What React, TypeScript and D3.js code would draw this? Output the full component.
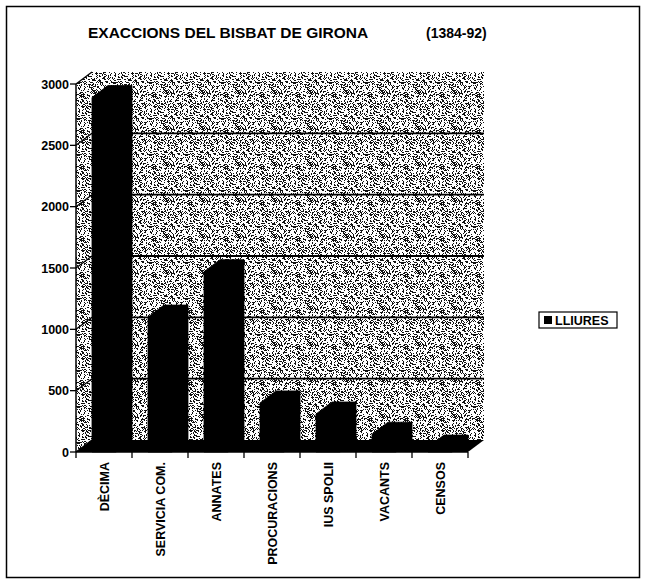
import { useEffect, useRef } from 'react'
import * as d3 from 'd3'

const categories = ['DÈCIMA', 'SERVICIA COM.', 'ANNATES', 'PROCURACIONS', 'IUS SPOLII', 'VACANTS', 'CENSOS']
const lliures = [2890, 1100, 1470, 400, 310, 145, 40]
const yTicks = [0, 500, 1000, 1500, 2000, 2500, 3000]
const seriesName = 'LLIURES'
const titleText = 'EXACCIONS DEL BISBAT DE GIRONA'
const yearsText = '(1384-92)'

export default function App() {
  const svgRef = useRef<SVGSVGElement | null>(null)

  useEffect(() => {
    if (!svgRef.current) return
    const width = 645
    const height = 583
    const font = '"Liberation Sans", Arial, sans-serif'

    // front plane of the 3D box, and depth offset to the back wall
    const left = 76
    const right = 468
    const dx = 16
    const dy = -12

    d3.select(svgRef.current).selectAll('*').remove()
    const svg = d3.select(svgRef.current).attr('width', width).attr('height', height)

    svg.append('rect').attr('width', width).attr('height', height).attr('fill', 'white')

    // stipple texture like the scanned grey fill (fixed hash, just for texture)
    const defs = svg.append('defs')
    const tile = 36
    const pat = defs
      .append('pattern')
      .attr('id', 'stip')
      .attr('width', tile)
      .attr('height', tile)
      .attr('patternUnits', 'userSpaceOnUse')
    pat.append('rect').attr('width', tile).attr('height', tile).attr('fill', 'white')
    let seed = 12345
    const next = () => {
      seed = (seed * 1103515245 + 12345) % 2147483648
      return seed / 2147483648
    }
    for (let py = 0; py < tile; py++) {
      for (let px = 0; px < tile; px++) {
        if (next() < 0.33) {
          pat.append('rect').attr('x', px).attr('y', py).attr('width', 1).attr('height', 1).attr('fill', '#111')
        }
      }
    }

    const y = d3.scaleLinear().domain([0, 3000]).range([452, 84])
    const x = d3
      .scaleBand<string>()
      .domain(categories)
      .range([left, right])
      .paddingInner(0.5714)
      .paddingOuter(0.2857)
    const step = x.step()

    const y0 = y(0)
    const yMax = y(3000)

    // back wall
    svg
      .append('rect')
      .attr('x', left + dx)
      .attr('y', yMax + dy)
      .attr('width', right - left)
      .attr('height', y0 - yMax)
      .attr('fill', 'url(#stip)')

    // side wall
    svg
      .append('path')
      .attr('d', `M${left},${y0}L${left},${yMax}L${left + dx},${yMax + dy}L${left + dx},${y0 + dy}Z`)
      .attr('fill', 'url(#stip)')

    // gridlines on back wall + diagonals on side wall
    yTicks.slice(1, -1).forEach(t => {
      svg
        .append('line')
        .attr('x1', left + dx)
        .attr('x2', right + dx)
        .attr('y1', y(t) + dy)
        .attr('y2', y(t) + dy)
        .attr('stroke', '#000')
        .attr('stroke-width', 1.8)
    })
    yTicks.forEach(t => {
      svg
        .append('line')
        .attr('x1', left)
        .attr('y1', y(t))
        .attr('x2', left + dx)
        .attr('y2', y(t) + dy)
        .attr('stroke', '#000')
        .attr('stroke-width', 1.3)
    })

    // floor
    svg
      .append('path')
      .attr('d', `M${left},${y0}L${right},${y0}L${right + dx},${y0 + dy}L${left + dx},${y0 + dy}Z`)
      .attr('fill', '#000')

    // bars
    const line = d3.line()
    categories.forEach((c, i) => {
      const x0 = x(c) as number
      const x1 = x0 + x.bandwidth()
      const yt = y(lliures[i])
      const pts: [number, number][] = [
        [x0, y0],
        [x0, yt],
        [x0 + dx, yt + dy],
        [x1 + dx, yt + dy],
        [x1 + dx, y0 + dy],
        [x1, y0],
      ]
      svg
        .append('path')
        .attr('d', line(pts) + 'Z')
        .attr('fill', '#000')
        .attr('stroke', '#000')
        .attr('stroke-width', 0.8)
    })

    // y axis
    svg.append('line').attr('x1', left).attr('x2', left).attr('y1', yMax).attr('y2', y0).attr('stroke', '#000').attr('stroke-width', 1.5)
    yTicks.forEach(t => {
      svg.append('line').attr('x1', left - 6).attr('x2', left).attr('y1', y(t)).attr('y2', y(t)).attr('stroke', '#000').attr('stroke-width', 1.3)
      svg
        .append('text')
        .attr('x', left - 7)
        .attr('y', y(t))
        .attr('dy', '0.36em')
        .attr('text-anchor', 'end')
        .style('font-family', font)
        .style('font-weight', 'bold')
        .style('font-size', '12.5px')
        .text(String(t))
    })

    // x axis
    svg.append('line').attr('x1', left).attr('x2', right).attr('y1', y0).attr('y2', y0).attr('stroke', '#000').attr('stroke-width', 1.5)
    d3.range(categories.length + 1).forEach(i => {
      const xx = left + i * step
      svg.append('line').attr('x1', xx).attr('x2', xx).attr('y1', y0).attr('y2', y0 + 6).attr('stroke', '#000').attr('stroke-width', 1.3)
    })
    categories.forEach((c, i) => {
      const cx = left + (i + 0.5) * step
      svg
        .append('text')
        .attr('transform', `translate(${cx},${y0 + 10}) rotate(-90)`)
        .attr('text-anchor', 'end')
        .attr('dy', '0.36em')
        .style('font-family', font)
        .style('font-weight', 'bold')
        .style('font-size', '12.5px')
        .text(c)
    })

    // title
    svg
      .append('text')
      .attr('x', 88)
      .attr('y', 38)
      .style('font-family', font)
      .style('font-weight', 'bold')
      .style('font-size', '15.5px')
      .text(titleText)
    svg
      .append('text')
      .attr('x', 426)
      .attr('y', 38)
      .style('font-family', font)
      .style('font-weight', 'bold')
      .style('font-size', '14px')
      .text(yearsText)

    // legend
    const lg = svg.append('g').attr('transform', 'translate(539, 312)')
    lg.append('rect').attr('width', 78).attr('height', 16).attr('fill', 'white').attr('stroke', '#000').attr('stroke-width', 1.2)
    lg.append('rect').attr('x', 5).attr('y', 4).attr('width', 8).attr('height', 8).attr('fill', '#000')
    lg.append('text')
      .attr('x', 16)
      .attr('y', 13)
      .style('font-family', font)
      .style('font-weight', 'bold')
      .style('font-size', '12.5px')
      .text(seriesName)

    // outer frame
    svg
      .append('rect')
      .attr('x', 6.5)
      .attr('y', 6.5)
      .attr('width', 633)
      .attr('height', 571)
      .attr('fill', 'none')
      .attr('stroke', '#000')
      .attr('stroke-width', 1.5)
  }, [])

  return (
    <svg ref={svgRef} style={{ position: 'absolute', left: 0, top: 0, display: 'block' }}></svg>
  )
}
